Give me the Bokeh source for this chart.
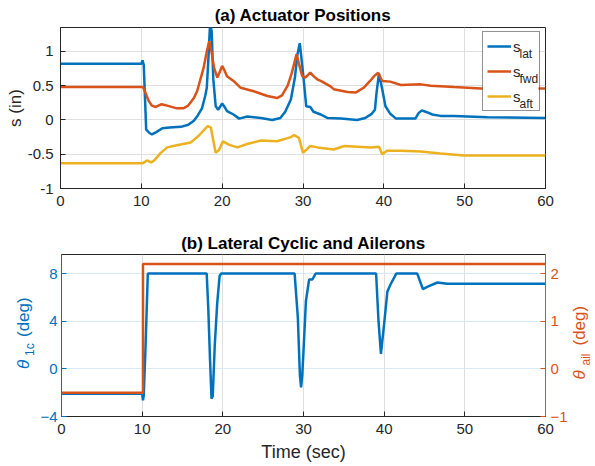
import math
from bokeh.plotting import figure
from bokeh.models import Range1d, LinearAxis, Legend, LegendItem, Label, FixedTicker, BoxAnnotation
from bokeh.layouts import column, row
from bokeh.embed import file_html
from bokeh.resources import INLINE

# ---------------- data ----------------
t_lat = [0, 10.0, 10.15, 10.3, 10.6, 11.0, 11.3, 11.8, 12.6, 13.5, 14.9, 15.8, 16.5, 17.0, 17.5,
         17.9, 18.1, 18.3, 18.5, 18.7, 18.9, 19.2, 19.5, 20.0, 20.3, 20.6, 21.4, 22.1, 23.1,
         24.8, 26.2, 27.2, 27.8, 28.5, 29.0, 29.3, 29.6, 29.9, 30.1, 30.4, 30.9, 31.3, 32.2,
         33.0, 34.7, 36.7, 37.7, 38.5, 38.9, 39.1, 39.4, 39.8, 40.2, 40.8, 41.5, 43.9, 44.3,
         44.7, 45.4, 46.0, 47.0, 48.7, 52.8, 60]
s_lat = [0.82, 0.82, 0.87, 0.80, -0.14, -0.19, -0.21, -0.18, -0.12, -0.11, -0.10, -0.07, -0.01, 0.07, 0.17,
         0.35, 0.47, 0.90, 1.40, 1.30, 0.60, 0.20, 0.15, 0.24, 0.19, 0.13, 0.08, 0.02, 0.05,
         0.03, 0.00, 0.03, 0.12, 0.30, 0.62, 0.95, 1.12, 0.80, 0.57, 0.20, 0.19, 0.12, 0.08,
         0.03, 0.02, 0.00, 0.03, 0.09, 0.15, 0.40, 0.68, 0.45, 0.20, 0.09, 0.02, 0.02, 0.10,
         0.14, 0.11, 0.08, 0.06, 0.06, 0.04, 0.03]

t_fwd = [0, 10.2, 10.4, 10.9, 11.3, 11.8, 12.5, 13.2, 14.4, 15.2, 15.8, 16.5, 16.9, 17.7, 18.1,
         18.4, 18.7, 19.0, 19.4, 19.7, 20.0, 20.3, 20.6, 21.4, 22.3, 23.9, 25.6, 26.8, 27.4,
         28.1, 28.6, 29.2, 29.5, 29.9, 30.3, 30.9, 31.3, 31.8, 32.2, 33.4, 33.8, 35.5, 36.5,
         37.5, 38.3, 38.8, 39.3, 39.8, 40.8, 42.1, 44.6, 45.8, 48.7, 52.0, 60]
s_fwd = [0.48, 0.48, 0.43, 0.28, 0.21, 0.19, 0.23, 0.21, 0.17, 0.17, 0.21, 0.32, 0.42, 0.76, 1.00,
         1.15, 0.98, 0.76, 0.62, 0.70, 0.79, 0.72, 0.64, 0.57, 0.47, 0.42, 0.35, 0.32, 0.36,
         0.50, 0.68, 0.96, 0.82, 0.64, 0.62, 0.69, 0.64, 0.59, 0.57, 0.49, 0.45, 0.41, 0.40,
         0.47, 0.57, 0.64, 0.69, 0.57, 0.56, 0.51, 0.52, 0.50, 0.48, 0.46, 0.46]

t_aft = [0, 10.2, 10.7, 11.2, 11.6, 12.4, 13.2, 14.4, 16.1, 17.1, 18.2, 18.6, 18.9, 19.2, 19.6,
         20.1, 20.8, 21.9, 23.1, 24.8, 26.8, 28.5, 28.9, 29.5, 30.0, 30.9, 31.8, 33.8, 35.1,
         38.4, 39.4, 39.8, 40.4, 42.1, 44.6, 47.0, 49.9, 60]
s_aft = [-0.63, -0.63, -0.59, -0.62, -0.59, -0.48, -0.40, -0.37, -0.33, -0.23, -0.09, -0.11, -0.30, -0.48, -0.44,
         -0.31, -0.36, -0.40, -0.35, -0.30, -0.31, -0.25, -0.22, -0.26, -0.48, -0.38, -0.40, -0.43, -0.38,
         -0.40, -0.39, -0.50, -0.45, -0.45, -0.46, -0.49, -0.52, -0.52]

t_cyc = [0, 10.0, 10.1, 10.2, 10.4, 10.7, 18.0, 18.2, 18.4, 18.6, 18.75, 19.0, 19.3, 19.6, 19.8,
         28.9, 29.3, 29.55, 29.7, 29.85, 30.0, 30.3, 30.7, 31.1, 31.5, 39.0, 39.3, 39.6, 40.0,
         40.4, 40.8, 41.5, 44.1, 44.8, 45.4, 46.6, 47.8, 60]
theta_1c = [-2.1, -2.1, -2.65, -2.2, 1.5, 8.0, 8.0, 5.0, 1.0, -2.5, -2.3, 2.0, 5.5, 7.8, 8.0,
            8.0, 4.3, -0.5, -1.55, -0.5, 1.5, 5.7, 7.5, 7.5, 8.0, 8.0, 4.0, 1.26, 3.8,
            6.5, 7.1, 8.0, 8.0, 6.7, 6.9, 7.25, 7.15, 7.15]

t_ail = [0, 10.1, 10.1, 60]
theta_ail = [-0.5, -0.5, 2.2, 2.2]

x_ticks = [0, 10, 20, 30, 40, 50, 60]
s_ticks = [-1, -0.5, 0, 0.5, 1]
s_tick_labels = ["-1", "-0.5", "0", "0.5", "1"]
cyc_ticks = [-4, 0, 4, 8]
ail_ticks = [-1, 0, 1, 2]

# ---------------- style ----------------
FONT = "Liberation Sans"
AX = "#262626"
BLUE = "#0072BD"
ORANGE = "#D95319"
YELLOW = "#EDB120"
LW = 2.5
TICK_FS = "15px"
LAB_FS = "17px"


def style_axis(ax, color, standoff=7):
    ax.axis_line_color = color
    ax.axis_line_width = 1
    ax.major_tick_line_color = color
    ax.major_tick_in = 5
    ax.major_tick_out = 0
    ax.minor_tick_line_color = None
    ax.major_label_text_color = color
    ax.major_label_text_font = FONT
    ax.major_label_text_font_size = TICK_FS
    ax.major_label_standoff = standoff
    ax.axis_label_text_font = FONT
    ax.axis_label_text_font_size = LAB_FS
    ax.axis_label_text_font_style = "normal"
    ax.axis_label_text_color = color


def style_title(p, standoff):
    p.title.align = "center"
    p.title.text_font = FONT
    p.title.text_font_size = LAB_FS
    p.title.text_font_style = "bold"
    p.title.text_color = "black"
    p.title.standoff = standoff


# ---------------- (a) ----------------
H1 = 222
p1 = figure(width=595, height=H1, x_range=Range1d(0, 60), y_range=Range1d(-1, 1.35),
            title="(a) Actuator Positions", output_backend="svg", toolbar_location=None,
            min_border_left=60, min_border_right=50, min_border_top=27, min_border_bottom=34)
p1.outline_line_color = AX
style_title(p1, 6)
p1.xaxis.ticker = FixedTicker(ticks=x_ticks)
p1.yaxis.ticker = FixedTicker(ticks=s_ticks)
p1.yaxis.major_label_overrides = {float(k): v for k, v in zip(s_ticks, s_tick_labels)}
style_axis(p1.xaxis[0], AX)
style_axis(p1.yaxis[0], AX)
p1.yaxis.axis_label = "s (in)"
p1.yaxis.axis_label_standoff = 0
p1.xgrid.grid_line_color = "#dfdfdf"
p1.ygrid.grid_line_color = "#dfdfdf"
p1.xgrid.ticker = FixedTicker(ticks=x_ticks)
p1.ygrid.ticker = FixedTicker(ticks=s_ticks)

r_lat = p1.line(t_lat, s_lat, line_color=BLUE, line_width=LW)
r_fwd = p1.line(t_fwd, s_fwd, line_color=ORANGE, line_width=LW)
r_aft = p1.line(t_aft, s_aft, line_color=YELLOW, line_width=LW)

frame_h1 = H1 - 27 - 34
pad, gw, gh, sp, stand, lw_lab = 4, 24, 20, 5, 2, 22
leg_h = 2 * pad + 3 * gh + 2 * sp
leg_w = 2 * pad + gw + stand + lw_lab
leg_x, leg_top = 422.0, frame_h1 - 6
# opaque legend background drawn below the subscript texts
p1.add_layout(BoxAnnotation(left=leg_x, right=leg_x + leg_w, bottom=leg_top - leg_h, top=leg_top,
                            left_units="screen", right_units="screen", top_units="screen",
                            bottom_units="screen", fill_color="white", fill_alpha=1,
                            line_color=None, level="annotation"))
for i, sub in enumerate(["lat", "fwd", "aft"]):
    cy = leg_top - pad - gh / 2 - i * (gh + sp)
    p1.add_layout(Label(x=leg_x + pad + gw + stand + 7, y=cy - 6, x_units="screen", y_units="screen",
                        text=sub, text_font=FONT, text_font_size="12px", text_color=AX,
                        text_baseline="middle", text_align="left", level="overlay"))
legend = Legend(items=[LegendItem(label="s", renderers=[r]) for r in (r_lat, r_fwd, r_aft)],
                location=(leg_x, leg_top - leg_h), margin=0, padding=pad, spacing=sp,
                glyph_width=gw, glyph_height=gh, label_height=gh, label_width=lw_lab,
                label_standoff=stand, label_text_font=FONT, label_text_font_size="15px",
                label_text_color=AX, border_line_color=AX, border_line_width=1,
                background_fill_alpha=0)
p1.add_layout(legend)

# ---------------- (b) ----------------
H2 = 244
TOP2, BOT2 = 32, 50
LW_SIDE, RW_SIDE = 37, 25
p2 = figure(width=595 - LW_SIDE - RW_SIDE, height=H2, x_range=Range1d(0, 60), y_range=Range1d(-4, 9.6),
            title="(b) Lateral Cyclic and Ailerons", output_backend="svg", toolbar_location=None,
            min_border_left=60 - LW_SIDE, min_border_right=595 - 545 - RW_SIDE,
            min_border_top=TOP2, min_border_bottom=BOT2)
p2.outline_line_color = AX
style_title(p2, 4)
p2.extra_y_ranges = {"ail": Range1d(-1, 2.4)}
p2.xaxis.ticker = FixedTicker(ticks=x_ticks)
p2.yaxis.ticker = FixedTicker(ticks=cyc_ticks)
style_axis(p2.xaxis[0], AX)
style_axis(p2.yaxis[0], BLUE, standoff=4)
p2.xaxis.axis_label = "Time (sec)"
p2.xaxis.axis_label_standoff = 5
p2.xaxis.axis_label_text_font_size = "18px"
ax2_r = LinearAxis(y_range_name="ail", ticker=FixedTicker(ticks=ail_ticks))
style_axis(ax2_r, ORANGE, standoff=5)
p2.add_layout(ax2_r, "right")
p2.xgrid.grid_line_color = "#dfdfdf"
p2.ygrid.grid_line_color = "#d9eaf5"
p2.xgrid.ticker = FixedTicker(ticks=x_ticks)
p2.ygrid.ticker = FixedTicker(ticks=cyc_ticks)

p2.line(t_cyc, theta_1c, line_color=BLUE, line_width=LW)
p2.line(t_ail, theta_ail, line_color=ORANGE, line_width=LW, y_range_name="ail")


def side_fig(w):
    f = figure(width=w, height=H2, x_range=Range1d(0, 1), y_range=Range1d(0, 1),
               x_axis_type=None, y_axis_type=None, output_backend="svg", toolbar_location=None,
               min_border_left=0, min_border_right=0, min_border_top=TOP2, min_border_bottom=BOT2)
    f.outline_line_color = None
    return f


def ylabel(f, x, y, color, sub, sub_dx, sub_off, deg_off):
    f.add_layout(Label(x=x, y=y, x_units="screen", y_units="screen", text="θ", angle=math.pi / 2,
                       text_font=FONT, text_font_size=LAB_FS, text_font_style="italic",
                       text_color=color, text_align="left", text_baseline="middle"))
    f.add_layout(Label(x=x + sub_dx, y=y + sub_off, x_units="screen", y_units="screen", text=sub,
                       angle=math.pi / 2, text_font=FONT, text_font_size="12px", text_color=color,
                       text_align="left", text_baseline="middle"))
    f.add_layout(Label(x=x, y=y + deg_off, x_units="screen", y_units="screen", text="(deg)",
                       angle=math.pi / 2, text_font=FONT, text_font_size=LAB_FS,
                       text_color=color, text_align="left", text_baseline="middle"))


frame_bottom_page = 466 - BOT2
lf = side_fig(LW_SIDE)
ylabel(lf, 22.5, frame_bottom_page - 368.5, BLUE, "1c", 6.5, 13, 32)
rf = side_fig(RW_SIDE)
ylabel(rf, 578.5 - (595 - RW_SIDE), frame_bottom_page - 379, ORANGE, "ail", 7, 14, 34)

layout = column(p1, row(lf, p2, rf, spacing=0), spacing=0)
open("out.html", "w").write(file_html(layout, INLINE))
